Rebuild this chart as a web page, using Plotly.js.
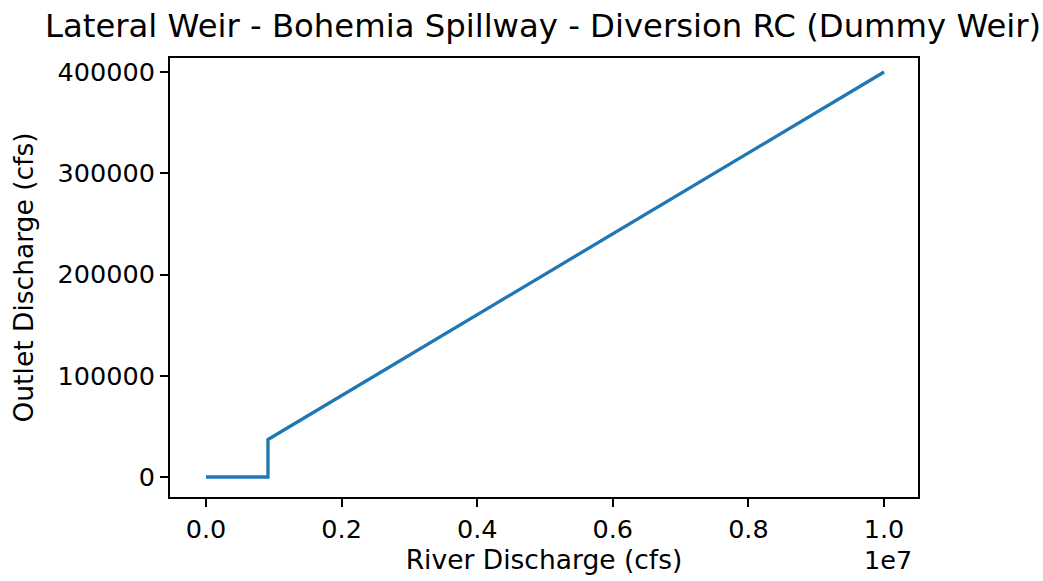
<!DOCTYPE html>
<html><head><meta charset="utf-8">
<script src="https://cdn.plot.ly/plotly-3.0.1.min.js"></script>
<style>body{margin:0;background:#fff}#c{width:1043px;height:581px}</style>
</head><body><div id="c"></div>
<script>
const riverQ = [0, 914000, 914000, 10000000];
const outletQ = [0, 0, 37000, 400000];
const xTicks = [0, 2000000, 4000000, 6000000, 8000000, 10000000];
const xTickText = ["0.0", "0.2", "0.4", "0.6", "0.8", "1.0"];
const yTicks = [0, 100000, 200000, 300000, 400000];
const yTickText = ["0", "100000", "200000", "300000", "400000"];

const font = {family: "DejaVu Sans", size: 25.5, color: "#000"};
const labelFont = {family: "DejaVu Sans", size: 26.5, color: "#000"};
Plotly.newPlot("c", [{
  x: riverQ, y: outletQ, type: "scatter", mode: "lines",
  line: {color: "#1f77b4", width: 3.3}
}], {
  width: 1043, height: 581,
  margin: {l: 170, r: 125, t: 58, b: 84},
  paper_bgcolor: "#fff", plot_bgcolor: "#fff",
  font: font,
  showlegend: false,
  title: {text: "Lateral Weir - Bohemia Spillway - Diversion RC (Dummy Weir)",
          font: {family: "DejaVu Sans", size: 32.3, color: "#000"},
          x: 0.5207, xref: "container", y: 0.955, yref: "container", yanchor: "middle"},
  xaxis: {range: [-531000, 10501000], tickvals: xTicks, ticktext: xTickText,
          showgrid: false, zeroline: false, showline: true, mirror: true,
          linecolor: "#000", linewidth: 2, ticks: "outside", ticklen: 8,
          tickwidth: 2, tickcolor: "#000", tickfont: font,
          title: {text: "River Discharge (cfs)", font: labelFont, standoff: 6}},
  yaxis: {range: [-19753, 413827], tickvals: yTicks, ticktext: yTickText,
          showgrid: false, zeroline: false, showline: true, mirror: true,
          linecolor: "#000", linewidth: 2, ticks: "outside", ticklen: 8,
          tickwidth: 2, tickcolor: "#000", tickfont: font,
          title: {text: "Outlet Discharge (cfs)", font: labelFont, standoff: 16}},
  annotations: [{text: "1e7", xref: "paper", yref: "paper", x: 1, y: 0,
                 xanchor: "right", yanchor: "top", yshift: -46, xshift: -4, showarrow: false,
                 font: font}]
}, {staticPlot: true});
</script></body></html>
